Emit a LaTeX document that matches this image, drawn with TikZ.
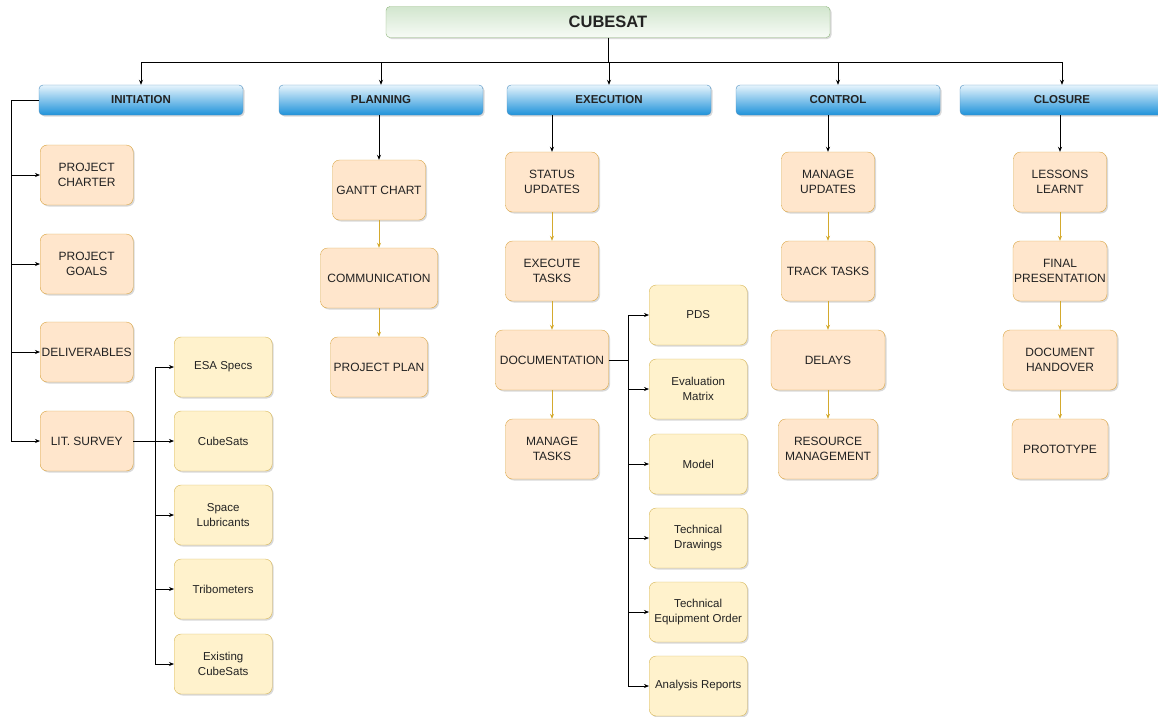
\documentclass[tikz,border=0pt]{standalone}
\usepackage{fontspec}
\setmainfont{Liberation Sans}
\usetikzlibrary{arrows.meta,shadows}

\definecolor{taskfill}{HTML}{FFE6CC}
\definecolor{taskline}{HTML}{D9A441}
\definecolor{itemfill}{HTML}{FFF2CC}
\definecolor{itemline}{HTML}{D6B656}
\definecolor{linkgold}{HTML}{D4AA2E}
\definecolor{phasetop}{HTML}{E6F4FC}
\definecolor{phasebot}{HTML}{1E92DA}
\definecolor{phaseline}{HTML}{4F8FC0}
\definecolor{roottop}{HTML}{D2E6CE}
\definecolor{rootbot}{HTML}{F7FBF6}
\definecolor{rootline}{HTML}{8DB67A}
\definecolor{ink}{HTML}{222222}

\begin{document}
\begin{tikzpicture}[
    x=1pt, y=-1pt,
    >={Stealth[length=5pt, width=4pt]},
    line/.style     = {line width=0.7pt},
    goldline/.style = {line width=0.7pt, draw=linkgold, -{Stealth[length=5pt, width=4pt]}},
    shade/.style    = {drop shadow={shadow xshift=1.5pt, shadow yshift=-1.5pt, opacity=0.3}},
    root/.style     = {draw=rootline, rounded corners=4pt, shade,
                       top color=roottop, bottom color=rootbot,
                       minimum width=444pt, minimum height=31pt, text=ink,
                       font=\fontsize{16.5}{19}\selectfont\bfseries},
    phase/.style    = {draw=phaseline, rounded corners=4pt, shade,
                       top color=phasetop, bottom color=phasebot,
                       minimum width=204pt, minimum height=30pt, text=ink,
                       font=\fontsize{11.5}{14}\selectfont\bfseries},
    task/.style     = {draw=taskline, fill=taskfill, rounded corners=7pt, shade,
                       minimum width=93pt, minimum height=60pt, inner sep=1pt,
                       align=center, text=ink, font=\fontsize{12}{15}\selectfont},
    item/.style     = {task, draw=itemline, fill=itemfill, minimum width=98pt,
                       font=\fontsize{11.5}{14.5}\selectfont}
]
\useasboundingbox (0,0) rectangle (1158,716);

% root and the five phases
\node[root] (cubesat) at (608,22) {CUBESAT};
\foreach \n/\x/\t in {init/141/INITIATION, plan/381/PLANNING, exec/609/EXECUTION,
                      ctrl/838/CONTROL, close/1062/CLOSURE}
    \node[phase] (\n) at (\x,100) {\t};

\coordinate (hub) at (608,62);
\draw[line] (cubesat.south) -- (hub);
\foreach \n in {init, plan, exec, ctrl, close}
    \draw[line, ->] (hub) -| (\n.north);

% initiation: side bus
\coordinate (ibus) at (11,100);
\draw[line] (init.west) -- (ibus);
\foreach \n/\y/\t in {charter/175/{PROJECT\\CHARTER}, goals/264/{PROJECT\\GOALS},
                      deliv/352/DELIVERABLES, lit/441/{LIT. SURVEY}} {
    \node[task, anchor=west] (\n) at (40,\y) {\t};
    \draw[line, ->] (ibus) |- (\n.west);
}

% literature survey topics
\coordinate (lbus) at (155,441);
\draw[line] (lit.east) -- (lbus);
\foreach \n/\y/\t in {esa/367/{ESA Specs}, cubes/441/CubeSats, lub/515/{Space\\Lubricants},
                      tribo/589/Tribometers, exist/664/{Existing\\CubeSats}} {
    \node[item, anchor=west] (\n) at (174,\y) {\t};
    \draw[line, ->] (lbus) |- (\n.west);
}

% planning column
\node[task] (gantt) at (379,190) {GANTT CHART};
\node[task, minimum width=117pt] (comm) at (379,278) {COMMUNICATION};
\node[task, minimum width=97pt] (pplan) at (379,367) {PROJECT PLAN};

% execution column
\node[task] (status) at (552,182) {STATUS\\UPDATES};
\node[task] (extask) at (552,271) {EXECUTE\\TASKS};
\node[task, minimum width=113pt] (doc) at (552,360) {DOCUMENTATION};
\node[task] (mtask) at (552,449) {MANAGE\\TASKS};

% documentation outputs
\coordinate (dbus) at (628,360);
\draw[line] (doc.east) -- (dbus);
\foreach \n/\y/\t in {pds/315/PDS, evalm/389/{Evaluation\\Matrix}, model/464/Model,
                      tdraw/538/{Technical\\Drawings}, teqo/612/{Technical\\Equipment Order},
                      anrep/686/{Analysis Reports}} {
    \node[item, anchor=west] (\n) at (649,\y) {\t};
    \draw[line, ->] (dbus) |- (\n.west);
}

% control column
\node[task] (mupd) at (828,182) {MANAGE\\UPDATES};
\node[task] (track) at (828,271) {TRACK TASKS};
\node[task, minimum width=114pt] (delays) at (828,360) {DELAYS};
\node[task, minimum width=99pt] (resman) at (828,449) {RESOURCE\\MANAGEMENT};

% closure column
\node[task] (lessons) at (1060,182) {LESSONS\\LEARNT};
\node[task, minimum width=94pt] (final) at (1060,271) {FINAL\\PRESENTATION};
\node[task, minimum width=114pt] (handover) at (1060,360) {DOCUMENT\\HANDOVER};
\node[task, minimum width=96pt] (proto) at (1060,449) {PROTOTYPE};

% phase to first task
\foreach \p/\c in {plan/gantt, exec/status, ctrl/mupd, close/lessons}
    \draw[line, ->] (\p.south -| \c.north) -- (\c.north);

% task chains
\foreach \a/\b in {gantt/comm, comm/pplan, status/extask, extask/doc, doc/mtask,
                   mupd/track, track/delays, delays/resman,
                   lessons/final, final/handover, handover/proto}
    \draw[goldline] (\a) -- (\b);

\end{tikzpicture}
\end{document}
